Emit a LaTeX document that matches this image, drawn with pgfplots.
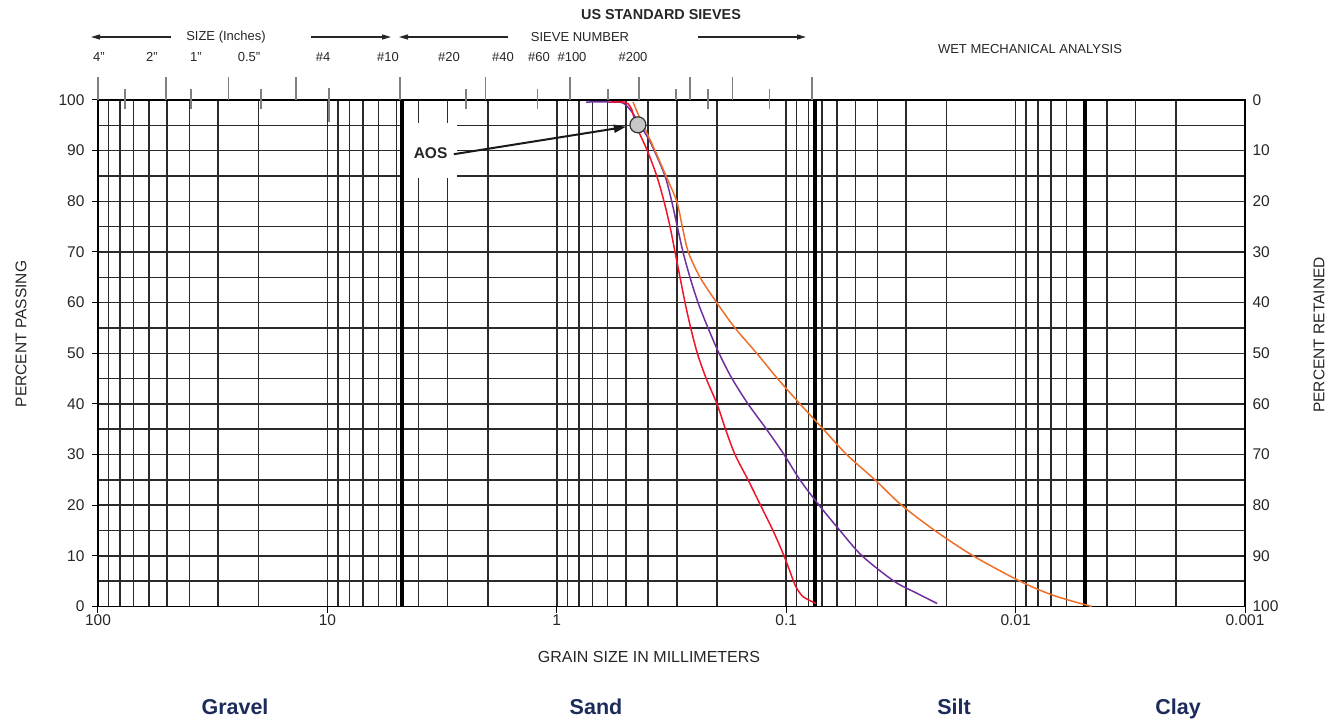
\documentclass[border=0pt]{standalone}
\usepackage{fontspec}
\setmainfont{Liberation Sans}
\usepackage{pgfplots}
\pgfplotsset{compat=1.18}
\usetikzlibrary{arrows.meta}
\definecolor{gridc}{HTML}{2A2A2A}
\definecolor{tickg}{HTML}{808080}
\definecolor{cpurple}{HTML}{7030A0}
\definecolor{cred}{HTML}{F01428}
\definecolor{corange}{HTML}{EE7028}
\definecolor{navy}{HTML}{1C2B5A}
\newcommand\fs[1]{\fontsize{#1}{#1}\selectfont}
\begin{document}
\begin{tikzpicture}
\useasboundingbox (-98pt,-114.5pt) rectangle (1240pt,606.5pt);
\begin{axis}[
  scale only axis, width=1147pt, height=506.5pt,
  xmode=log, x dir=reverse, xmin=0.001, xmax=100,
  ymin=0, ymax=100,
  xtick={0.001,0.01,0.1,1,10,100},
  xticklabels={0.001,0.01,0.1,1,10,100},
  minor xtick={0.002,0.003,0.004,0.005,0.006,0.007,0.008,0.009,
    0.02,0.03,0.04,0.05,0.06,0.07,0.08,0.09,
    0.2,0.3,0.4,0.5,0.6,0.7,0.8,0.9,
    2,3,4,5,6,7,8,9,20,30,40,50,60,70,80,90},
  ytick={0,10,...,100},
  yticklabels={0,10,20,30,40,50,60,70,80,90,100},
  minor ytick={5,15,...,95},
  grid=both,
  major grid style={gridc,line width=1.5pt},
  minor grid style={gridc,line width=1.5pt},
  axis line style={black,line width=1.5pt},
  tick style={black,line width=1pt},
  major tick length=6pt, minor tick length=0pt,
  tick align=outside, xtick pos=bottom, ytick pos=left,
  tick label style={font=\fs{15.5}, text=black!85},
  yticklabel style={xshift=-4pt},
  xticklabel style={yshift=1pt},
  clip=false,
]
% white box behind AOS
\fill[white] (axis cs:4.70,95.4) rectangle (axis cs:2.72,84.6);
% thick boundary lines
\draw[black,line width=4pt] (axis cs:4.75,0) -- (axis cs:4.75,100);
\draw[black,line width=4pt] (axis cs:0.075,0) -- (axis cs:0.075,100);
\draw[black,line width=4pt] (axis cs:0.005,0) -- (axis cs:0.005,100);
% top sieve ticks
\pgfplotsinvokeforeach{100,50.5,26.9,13.7,4.83,2.04,0.876,0.438,0.263,0.171,0.0772}
  {\draw[tickg,line width=1.3pt] (axis cs:#1,100) -- (axis cs:#1,104.5);}
\pgfplotsinvokeforeach{76.3,39.3,19.5,2.49,1.21,0.219,0.118}
  {\draw[tickg,line width=1.3pt] (axis cs:#1,98.2) -- (axis cs:#1,102.2);}
\draw[tickg,line width=1.3pt] (axis cs:9.84,95.6) -- (axis cs:9.84,102.4);
\pgfplotsinvokeforeach{0.598,0.302}
  {\draw[tickg,line width=1.3pt] (axis cs:#1,100) -- (axis cs:#1,102.2);}
% curves
\addplot[cpurple,line width=1.5pt,smooth,tension=0.5] coordinates {
(0.746,99.6)(0.586,99.6)(0.514,99.4)(0.470,97.6)(0.4338,95)(0.400,92.5)
(0.3758,90)(0.3375,85)(0.3156,80)(0.2983,75)(0.2818,70)(0.2627,65)
(0.2423,60)(0.2192,55)(0.1963,50)(0.1723,45)(0.1467,40)(0.1219,35)
(0.1022,30)(0.0871,25)(0.0719,20)(0.0583,15)(0.0467,10)(0.0339,5)
(0.0269,2.6)(0.0220,0.6)};
\addplot[cred,line width=1.5pt,smooth,tension=0.5] coordinates {
(0.586,99.6)(0.510,99.6)(0.490,99.3)(0.470,98.0)(0.4516,95)(0.4032,90)
(0.3668,85)(0.3410,80)(0.3210,75)(0.3053,70)(0.2903,65)(0.2761,60)
(0.2608,55)(0.2440,50)(0.2232,45)(0.2003,40)(0.1839,35)(0.1672,30)
(0.1467,25)(0.1294,20)(0.1142,15)(0.1022,10)(0.0929,5)(0.0900,3.6)
(0.0842,1.9)(0.0741,0.6)};
\addplot[corange,line width=1.5pt,smooth,tension=0.5] coordinates {
(0.465,99.6)(0.445,97.5)(0.4197,95)(0.3731,90)(0.3342,85)(0.3001,80)
(0.2837,75)(0.2672,70)(0.2375,65)(0.2009,60)(0.1672,55)(0.1345,50)
(0.1091,45)(0.0871,40)(0.0689,35)(0.0545,30)(0.0410,25)(0.0314,20)
(0.0225,15)(0.0153,10)(0.00957,5)(0.00685,2.2)(0.00466,0)};
% AOS annotation
\node[font=\bfseries\fs{15.5},text=black!85] at (axis cs:3.55,89.5) {AOS};
\draw[black!90,line width=2pt,-{Triangle[length=12pt,width=8pt]}]
  (axis cs:2.81,89.3) -- (axis cs:0.50,94.7);
\draw[fill=black!22,draw=black!80,line width=1.2pt] (axis cs:0.443,95.1) circle[radius=8pt];
\end{axis}
\begin{axis}[
  scale only axis, width=1147pt, height=506.5pt,
  xmin=0, xmax=1, ymin=0, ymax=100,
  hide x axis, axis y line*=right, y axis line style={draw=none},
  ytick={0,10,...,100},
  yticklabels={100,90,80,70,60,50,40,30,20,10,0},
  major tick length=0pt,
  tick label style={font=\fs{15.5}, text=black!85},
  yticklabel style={xshift=4pt},
]
\end{axis}
% texts outside the axis
\node[font=\bfseries\fs{14.4},text=black!85] at (563pt,591.5pt) {US STANDARD SIEVES};
\node[font=\fs{13},text=black!85] at (128pt,569.5pt) {SIZE (Inches)};
\node[font=\fs{13},text=black!85] at (482pt,569.5pt) {SIEVE NUMBER};
\node[font=\fs{13},text=black!85] at (932pt,557.5pt) {WET MECHANICAL ANALYSIS};
\draw[black!85,line width=1.2pt,-{Triangle[length=9pt,width=5pt]}] (73pt,569.5pt) -- (-7pt,569.5pt);
\draw[black!85,line width=1.2pt,-{Triangle[length=9pt,width=5pt]}] (213pt,569.5pt) -- (293pt,569.5pt);
\draw[black!85,line width=1.2pt,-{Triangle[length=9pt,width=5pt]}] (410pt,569.5pt) -- (301pt,569.5pt);
\draw[black!85,line width=1.2pt,-{Triangle[length=9pt,width=5pt]}] (600pt,569.5pt) -- (708pt,569.5pt);
\foreach \xx/\tt in {1/4",54/2",98/1",151/0.5",225/\#4,290/\#10,351/\#20,405/\#40,441/\#60,474/\#100,535/\#200}
  {\node[font=\fs{13},text=black!85] at (\xx pt,549.5pt) {\tt};}
\node[font=\fs{15.5},text=black!85,rotate=90] at (-77pt,272.5pt) {PERCENT PASSING};
\node[font=\fs{15.5},text=black!85,rotate=90] at (1221pt,271.5pt) {PERCENT RETAINED};
\node[font=\fs{16},text=black!85] at (551pt,-50.5pt) {GRAIN SIZE IN MILLIMETERS};
\foreach \xx/\tt in {137/Gravel,498/Sand,856/Silt,1080/Clay}
  {\node[font=\bfseries\fs{21.5},text=navy,anchor=base,inner sep=0pt] at (\xx pt,-108.2pt) {\tt};}
\end{tikzpicture}
\end{document}
